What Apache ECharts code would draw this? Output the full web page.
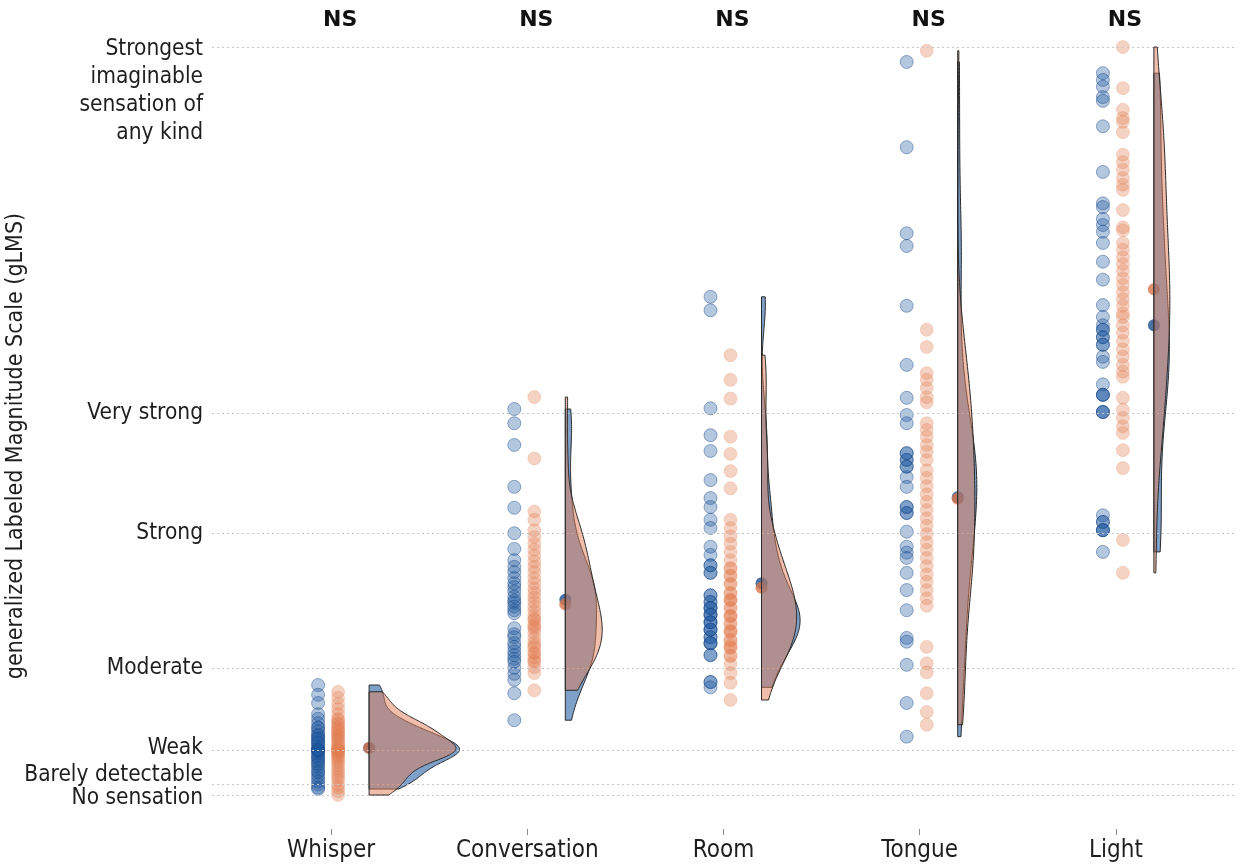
<!DOCTYPE html>
<html><head><meta charset="utf-8">
<script src="https://cdn.jsdelivr.net/npm/echarts@6/dist/echarts.min.js"></script>
<style>html,body{margin:0;padding:0;background:#fff}#c{width:1241px;height:867px}</style>
</head><body><div id="c"></div>
<script>
// ---------- data ----------
const categories = ['Whisper', 'Conversation', 'Room', 'Tongue', 'Light'];
const significance = ['NS', 'NS', 'NS', 'NS', 'NS'];
const yTickValues = [0, 1.4, 6, 17, 35, 51, 100];
const yTickLabels = ['No sensation', 'Barely detectable', 'Weak', 'Moderate', 'Strong', 'Very strong',
  'Strongest\nimaginable\nsensation of\nany kind'];
const yAxisTitle = 'generalized Labeled Magnitude Scale (gLMS)';

const whisperBlue = [14.7, 13.4, 12.3, 10.8, 10.2, 9.6, 9.0, 8.5, 8.0, 7.6, 7.2, 6.8, 6.5, 6.2, 6.0, 6.0, 5.8, 5.5, 5.2, 5.0, 4.8, 4.5, 4.2, 4.0, 3.6, 3.2, 3.0, 2.6, 2.2, 1.8, 1.4, 1.0, 0.8, 6.0, 6.0, 9.0, 8.0, 7.5, 7.0];
const whisperOrange = [13.8, 13.0, 12.2, 11.5, 10.8, 10.2, 9.6, 9.0, 8.6, 8.2, 7.8, 7.4, 7.0, 6.8, 6.5, 6.3, 6.1, 6.0, 6.0, 6.0, 6.0, 5.8, 5.6, 5.4, 5.2, 5.0, 4.7, 4.4, 4.0, 3.6, 3.2, 2.8, 2.4, 2.0, 1.4, 1.0, 0.5, 0, 9.5, 9.0, 8.5, 8.0, 7.5, 10.0];
const conversationBlue = [51.6, 49.7, 46.8, 41.2, 38.4, 35.0, 32.9, 31.4, 30.5, 29.8, 29.0, 28.3, 27.8, 27.2, 26.5, 26.0, 25.7, 25.2, 24.7, 24.3, 22.3, 21.5, 21.1, 20.3, 19.8, 19.2, 18.7, 18.2, 17.8, 17.0, 16.2, 15.4, 13.6, 10.0];
const conversationOrange = [53.2, 45.0, 37.9, 36.8, 35.4, 34.5, 33.6, 32.8, 32.0, 31.2, 30.5, 29.8, 29.0, 28.3, 27.6, 27.0, 26.4, 25.8, 25.2, 24.6, 24.0, 23.4, 22.8, 22.2, 21.7, 21.0, 20.4, 19.7, 19.0, 18.4, 17.8, 17.1, 16.3, 14.0, 20.0, 19.0, 18.0, 22.5, 23.5];
const roomBlue = [66.6, 64.8, 51.7, 48.1, 46.0, 42.1, 39.7, 38.5, 36.8, 35.7, 33.2, 32.1, 30.7, 29.7, 26.7, 25.8, 25.0, 24.1, 23.1, 22.1, 21.1, 20.3, 18.7, 15.1, 14.4, 26.7, 25.8, 25.0, 24.1, 23.1, 22.1, 21.1, 20.3, 25.0, 24.1, 30.7, 29.7, 18.7, 20.3, 22.1, 23.1, 15.1];
const roomOrange = [58.8, 55.5, 53.0, 47.9, 45.6, 43.3, 41.0, 36.8, 35.7, 34.6, 33.6, 32.5, 31.4, 30.3, 29.3, 28.2, 27.0, 26.1, 25.0, 23.9, 22.9, 21.8, 20.7, 19.7, 18.6, 17.5, 16.3, 15.0, 12.7, 30.3, 29.3, 28.2, 27.0, 26.1, 25.0, 23.9, 22.9, 21.8, 20.7, 19.7, 18.6, 24.0, 22.0, 20.0, 26.0];
const tongueBlue = [98.0, 86.6, 75.1, 73.4, 65.4, 57.5, 53.1, 50.8, 49.7, 45.7, 44.8, 43.9, 42.5, 41.2, 38.5, 37.7, 35.2, 33.2, 32.4, 31.7, 29.7, 27.4, 24.7, 21.0, 20.5, 17.4, 12.3, 7.8, 37.7, 38.5, 44.8, 43.9, 45.7];
const tongueOrange = [99.5, 62.2, 59.9, 56.4, 55.5, 54.4, 53.2, 52.5, 49.7, 48.8, 47.9, 46.8, 45.9, 44.8, 43.4, 42.4, 41.3, 40.2, 39.2, 38.1, 37.0, 36.0, 34.9, 33.8, 32.8, 31.7, 30.6, 29.5, 28.5, 27.4, 26.3, 25.3, 19.8, 17.6, 16.4, 13.6, 11.1, 9.4];
const lightBlue = [96.5, 95.6, 94.7, 93.3, 92.8, 89.4, 83.3, 79.1, 78.6, 77.0, 76.2, 75.3, 73.8, 71.3, 68.9, 65.5, 63.9, 62.8, 62.2, 61.2, 60.2, 58.6, 57.9, 54.9, 53.5, 51.2, 37.4, 36.5, 35.4, 32.5, 62.2, 61.2, 60.2, 53.5, 53.5, 51.2, 36.5, 35.4, 35.4, 51.2];
const lightOrange = [100, 94.5, 91.6, 90.5, 90.0, 88.6, 85.6, 84.6, 83.6, 82.5, 81.6, 80.9, 78.2, 75.9, 75.5, 73.8, 72.9, 71.9, 71.0, 70.1, 69.1, 68.2, 67.2, 66.3, 65.4, 64.4, 63.9, 62.8, 61.8, 60.7, 59.6, 58.6, 57.5, 56.6, 55.9, 53.1, 51.5, 50.4, 49.3, 48.4, 46.1, 43.7, 34.1, 29.7];

const meanBlue = [6.3, 26.1, 28.3, 39.8, 62.8];
const meanOrange = [6.3, 25.5, 27.7, 39.6, 67.6];

const blueGroups = [whisperBlue, conversationBlue, roomBlue, tongueBlue, lightBlue];
const orangeGroups = [whisperOrange, conversationOrange, roomOrange, tongueOrange, lightOrange];

// ---------- style ----------
const FONT = "'DejaVu Sans Condensed', 'DejaVu Sans', sans-serif";
const TXT = '#1e1e1e';
const DOT_BLUE_DX = -13, DOT_ORANGE_DX = 7, VIOLIN_DX = 38;
const WIDTH_K = 720; // px per unit of density
const STEPS = 160;

function kdeStats(vals) {
  const n = vals.length;
  const mean = vals.reduce((a, b) => a + b, 0) / n;
  const sd = Math.sqrt(vals.reduce((a, b) => a + (b - mean) * (b - mean), 0) / (n - 1));
  const s = vals.slice().sort((a, b) => a - b);
  const q = p => { const h = (n - 1) * p; const lo = Math.floor(h); const hi = Math.min(lo + 1, n - 1); return s[lo] + (h - lo) * (s[hi] - s[lo]); };
  const iqr = q(0.75) - q(0.25);
  let spread = Math.min(sd, iqr / 1.34);
  if (!(spread > 0)) spread = sd;
  const bw = 0.9 * spread * Math.pow(n, -0.2);
  const norm = n * bw * Math.sqrt(2 * Math.PI);
  const f = x => { let t = 0; for (const v of vals) { const z = (x - v) / bw; t += Math.exp(-0.5 * z * z); } return t / norm; };
  return { min: s[0], max: s[n - 1], f };
}

function makeViolin(groups, fill) {
  const stats = groups.map(kdeStats);
  return function (params, api) {
    const i = api.value(0);
    const s = stats[i];
    const pMin = api.coord([i, s.min]);
    const pMax = api.coord([i, s.max]);
    const x0 = pMin[0] + VIOLIN_DX;
    const pts = [[x0, pMin[1]]];
    for (let k = 0; k <= STEPS; k++) {
      const v = s.min + (s.max - s.min) * k / STEPS;
      const p = api.coord([i, v]);
      pts.push([x0 + s.f(v) * WIDTH_K, p[1]]);
    }
    pts.push([x0, pMax[1]]);
    return { type: 'polygon', shape: { points: pts }, style: { fill: fill, stroke: '#2a2a2a', lineWidth: 1 } };
  };
}

function toPoints(groups) {
  const out = [];
  groups.forEach((g, i) => g.forEach(v => out.push([i, v])));
  return out;
}

function yLabel(v) {
  const idx = yTickValues.findIndex(t => Math.abs(t - v) < 1e-6);
  if (idx < 0) return '';
  const text = yTickLabels[idx];
  if (text.indexOf('\n') >= 0) {
    return text.split('\n').map(l => '{f|' + l + '}').join('\n');
  }
  const style = idx === 0 ? 'dn' : idx === 1 ? 'up' : idx === 2 ? 'w' : 'n';
  return '{' + style + '|' + text + '}';
}

const lblBase = { fontFamily: FONT, fontSize: 22.5, color: TXT, lineHeight: 28 };
const lblSmall = { fontFamily: FONT, fontSize: 22.5, color: TXT, lineHeight: 18 };
const richY = {
  n: lblBase,
  f: Object.assign({}, lblBase, { padding: [88, 0, 0, 0] }),
  up: Object.assign({}, lblSmall, { padding: [0, 0, 18, 0] }),
  dn: Object.assign({}, lblSmall, { padding: [6, 0, 0, 0] }),
  w: Object.assign({}, lblSmall, { padding: [0, 0, 4, 0] })
};
const yLabelCommon = { margin: 9, formatter: yLabel, showMinLabel: true, showMaxLabel: true, hideOverlap: false,
  fontFamily: FONT, fontSize: 22.5, color: TXT, rich: richY };

const chart = echarts.init(document.getElementById('c'), null, { renderer: 'canvas' });
chart.setOption({
  animation: false,
  backgroundColor: '#fff',
  grid: [
    { left: 212, right: 5, top: 47, bottom: 72, containLabel: false, outerBoundsMode: 'none' },
    { left: 233, right: 27, top: 47, bottom: 72, containLabel: false, outerBoundsMode: 'none' },
    { left: 212, right: 5, top: 97, bottom: 72, containLabel: false, outerBoundsMode: 'none' }
  ],
  xAxis: [
    { gridIndex: 0, type: 'value', min: 0, max: 1, show: false },
    { gridIndex: 1, type: 'category', data: categories, boundaryGap: true, offset: 34,
      axisLine: { show: true, onZero: false, lineStyle: { color: 'rgba(0,0,0,0)' } },
      axisTick: { show: true, alignWithLabel: true, length: 6, lineStyle: { color: '#888', width: 1 } },
      axisLabel: { fontFamily: FONT, fontSize: 24, color: TXT, margin: 10 },
      splitLine: { show: false } },
    { gridIndex: 2, type: 'value', min: 0, max: 1, show: false }
  ],
  yAxis: [
    { gridIndex: 0, type: 'value', min: 0, max: 100, position: 'left',
      axisLine: { show: false }, axisTick: { show: false }, splitLine: { show: false },
      axisLabel: Object.assign({ customValues: yTickValues.slice(1) }, yLabelCommon) },
    { gridIndex: 1, type: 'value', min: 0, max: 100, show: false, splitLine: { show: false } },
    { gridIndex: 0, type: 'value', min: 0, max: 100, position: 'left', offset: 0,
      axisLine: { show: false }, axisTick: { show: false }, splitLine: { show: false },
      axisLabel: Object.assign({ customValues: yTickValues.slice(0, 1) }, yLabelCommon) },
    { gridIndex: 2, type: 'value', min: 0, max: 1, position: 'left',
      name: yAxisTitle, nameLocation: 'middle', nameGap: 184,
      nameTextStyle: { fontFamily: FONT, fontSize: 23, color: TXT },
      axisLine: { show: false }, axisTick: { show: false }, splitLine: { show: false },
      axisLabel: { show: false } }
  ],
  series: [
    { type: 'scatter', xAxisIndex: 0, yAxisIndex: 0, data: [[0, 0]], symbolSize: 0, silent: true, z: 1,
      markLine: { silent: true, symbol: ['none', 'none'], label: { show: false }, animation: false,
        lineStyle: { color: '#c6c6c6', type: [2, 3], width: 1 },
        emphasis: { disabled: true },
        data: yTickValues.map(v => ({ yAxis: v })) } },
    { type: 'scatter', xAxisIndex: 1, yAxisIndex: 1, data: toPoints(blueGroups), z: 2,
      symbolSize: 13, symbolOffset: [DOT_BLUE_DX, 0],
      itemStyle: { color: 'rgba(30,90,160,0.42)', borderColor: 'rgba(25,70,135,0.55)', borderWidth: 1 } },
    { type: 'scatter', xAxisIndex: 1, yAxisIndex: 1, data: toPoints(orangeGroups), z: 2,
      symbolSize: 13, symbolOffset: [DOT_ORANGE_DX, 0],
      itemStyle: { color: 'rgba(225,125,80,0.42)', borderColor: 'rgba(225,140,100,0.35)', borderWidth: 1 } },
    { type: 'scatter', xAxisIndex: 1, yAxisIndex: 1, data: meanBlue.map((m, i) => [i, m]), z: 3,
      symbolSize: 12, symbolOffset: [VIOLIN_DX, 0], itemStyle: { color: '#1d4f8f' } },
    { type: 'scatter', xAxisIndex: 1, yAxisIndex: 1, data: meanOrange.map((m, i) => [i, m]), z: 3,
      symbolSize: 12, symbolOffset: [VIOLIN_DX, 0], itemStyle: { color: '#d8744a' } },
    { type: 'custom', xAxisIndex: 1, yAxisIndex: 1, z: 4, silent: true,
      renderItem: makeViolin(blueGroups, 'rgba(32,93,163,0.58)'),
      data: categories.map((c, i) => [i, 0]) },
    { type: 'custom', xAxisIndex: 1, yAxisIndex: 1, z: 5, silent: true,
      renderItem: makeViolin(orangeGroups, 'rgba(225,125,85,0.5)'),
      data: categories.map((c, i) => [i, 0]) },
    { type: 'custom', xAxisIndex: 1, yAxisIndex: 1, z: 6, silent: true,
      renderItem: function (params, api) {
        const i = api.value(0);
        const p = api.coord([i, 100]);
        return { type: 'text', x: p[0] + 9, y: p[1] - 27,
          style: { text: significance[i], fontFamily: "'DejaVu Sans', sans-serif", fontWeight: 'bold', fontSize: 22,
            fill: '#111', align: 'center', verticalAlign: 'middle' } };
      },
      data: categories.map((c, i) => [i, 100]) }
  ]
});
</script></body></html>
